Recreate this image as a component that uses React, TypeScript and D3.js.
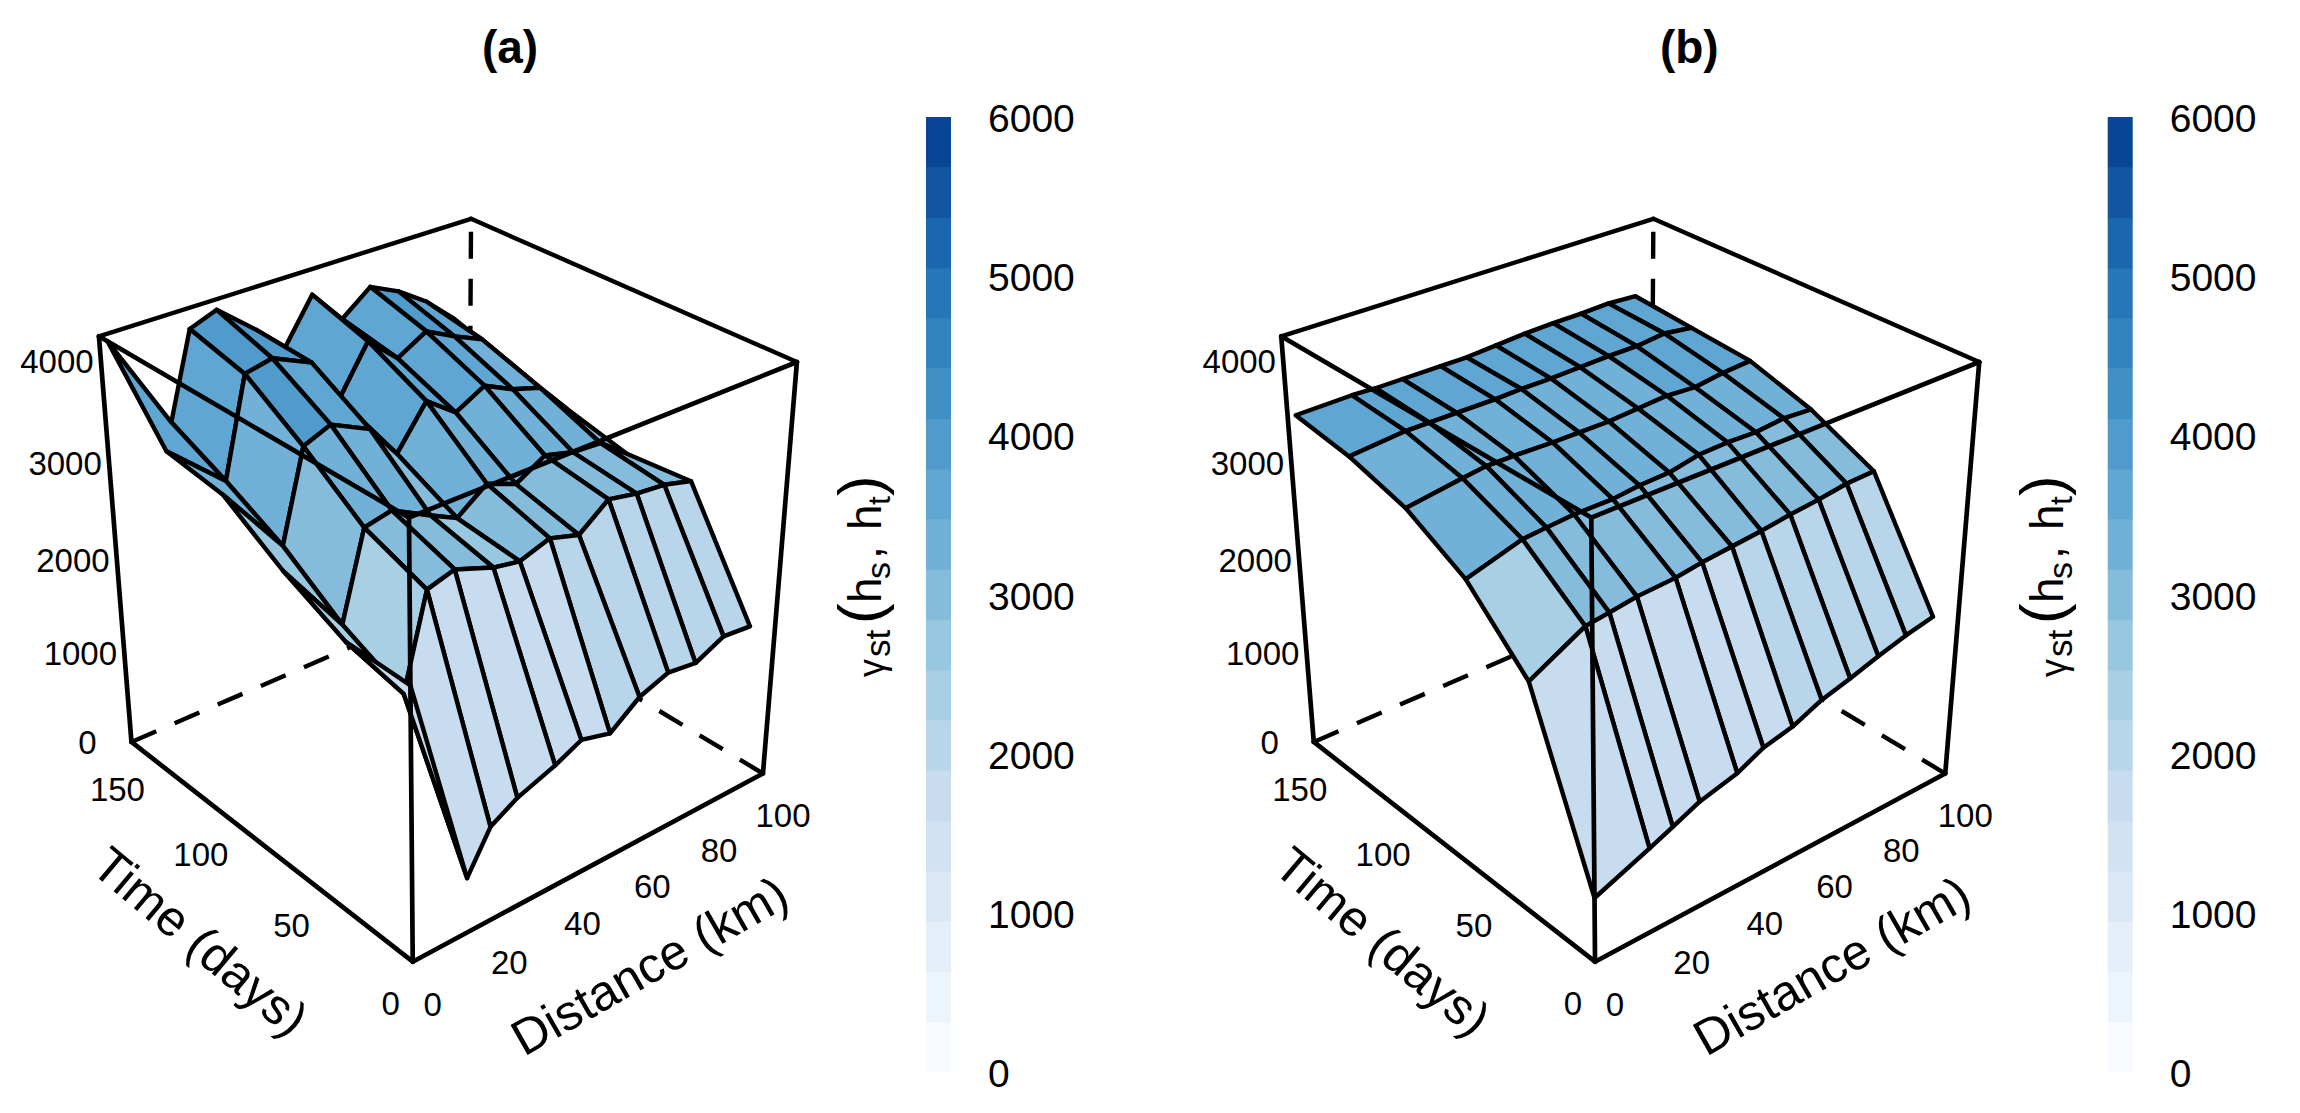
import React from 'react'
import * as d3 from 'd3'

// grid of the two surfaces
const distances = [0, 14, 20, 27, 37, 44, 52, 60, 68, 76, 84, 92]
const times = [0, 30, 60, 90, 120, 150]

// one row per distance, one value per time lag
const empirical = [
  [2750, 2760, 3050, 3420, 3500, 4240],
  [580, 2010, 2300, 2710, 3010, 3270],
  [990, 2920, 3150, 3590, 3970, 4110],
  [1150, 3000, 3210, 3700, 4030, 4210],
  [1290, 2860, 3010, 3520, 3860, 3890],
  [1420, 2810, 2880, 3180, 3410, 3610],
  [1340, 2910, 3100, 3590, 3880, 4060],
  [1570, 2820, 2980, 3370, 3610, 3720],
  [1680, 3050, 3150, 3530, 3780, 3950],
  [1640, 2990, 3070, 3390, 3630, 3810],
  [1780, 2960, 3050, 3300, 3500, 3610],
  [1750, 2880, 2830, 2980, 3150, 3340],
]
const fitted = [
  [670, 2380, 2970, 3290, 3450, 3530],
  [890, 2670, 3130, 3370, 3500, 3540],
  [990, 2700, 3150, 3400, 3500, 3530],
  [1110, 2740, 3170, 3400, 3500, 3530],
  [1210, 2760, 3170, 3390, 3500, 3530],
  [1340, 2800, 3200, 3390, 3510, 3530],
  [1410, 2830, 3210, 3390, 3510, 3550],
  [1540, 2860, 3270, 3410, 3520, 3570],
  [1620, 2900, 3280, 3430, 3530, 3580],
  [1710, 2930, 3270, 3410, 3530, 3580],
  [1790, 2970, 3300, 3450, 3560, 3590],
  [1850, 2980, 3280, 3470, 3520, 3570],
]

const distanceTicks = [0, 20, 40, 60, 80, 100]
const timeTicks = [0, 50, 100, 150]
const gammaTicks = [0, 1000, 2000, 3000, 4000]
const legendTicks = [0, 1000, 2000, 3000, 4000, 5000, 6000]
const blues = ['#F7FBFF', '#DEEBF7', '#C6DBEF', '#9ECAE1', '#6BAED6', '#4292C6', '#2171B5', '#084594']

const FONT = '"Liberation Sans", Arial, sans-serif'
const nBands = 19
const lineW = 4.4

const xNorm = d3.scaleLinear().domain([0, 100]).range([-0.5, 0.5])
const yNorm = d3.scaleLinear().domain([0, 155]).range([-0.5, 0.5])
const zNorm = d3.scaleLinear().domain([0, 4240]).range([-0.5, 0.5])

const bandColor = d3.scaleLinear<string>().domain(blues.map((_, i) => i / 7)).range(blues)
const bandOf = d3.scaleQuantize<number>().domain([0, 6000]).range(d3.range(nBands))
const legendY = d3.scaleLinear().domain([0, 6000]).range([1072, 117])
// cell mean to colour lookup, the reference's low cells sit a band lighter than their mean
const shadeOf = d3.scaleLinear()
  .domain([0, 1600, 2140, 2800, 2900, 3000, 6000])
  .range([0, 1580, 1900, 2520, 2850, 3000, 6000])

// same camera as a lattice wireframe: screen = z 40, x -60, distance 0.2
const theta = 40 * Math.PI / 180
const phi = 60 * Math.PI / 180
const rotate = (d: number, t: number, z: number) => {
  const X = xNorm(d), Y = yNorm(t), Z = zNorm(z)
  const rx = X * Math.cos(theta) - Y * Math.sin(theta)
  const ry = X * Math.sin(theta) + Y * Math.cos(theta)
  return { rx, ry, sy: ry * Math.cos(phi) + Z * Math.sin(phi), sz: -ry * Math.sin(phi) + Z * Math.cos(phi) }
}
const project = (d: number, t: number, z: number): [number, number] => {
  const { rx, sy, sz } = rotate(d, t, z)
  const den = 5 - sz
  return [444 + 2353 * rx / den, 563.5 - 2353 * sy / den]
}

const closed = d3.line().curve(d3.curveLinearClosed)
const open = d3.line()

type PanelProps = { title: string, values: number[][], dx: number, legendDx: number }

const Panel: React.FC<PanelProps> = ({ title, values, dx, legendDx }) => {
  const dMax = 100, tMax = 155, zMax = 4240
  const quads: { depth: number, mean: number, pts: [number, number][] }[] = []
  distances.slice(0, -1).forEach((d, i) => {
    times.slice(0, -1).forEach((t, j) => {
      const corners = [[i, j], [i + 1, j], [i + 1, j + 1], [i, j + 1]]
      quads.push({
        depth: d3.mean(corners, ([a, b]) => rotate(distances[a], times[b], 0).ry) as number,
        mean: d3.mean(corners, ([a, b]) => values[a][b]) as number,
        pts: corners.map(([a, b]) => project(distances[a], times[b], values[a][b])),
      })
    })
  })
  quads.sort((a, b) => b.depth - a.depth)

  const c = (d: number, t: number, z: number) => project(d, t, z)
  const hidden = [
    [c(0, tMax, 0), c(dMax, tMax, 0)],
    [c(dMax, 0, 0), c(dMax, tMax, 0)],
  ]
  const behind = [
    [c(0, tMax, zMax), c(dMax, tMax, zMax)],
    [c(dMax, 0, zMax), c(dMax, tMax, zMax)],
  ]
  const front = [
    [c(0, 0, 0), c(0, tMax, 0)],
    [c(0, 0, 0), c(dMax, 0, 0)],
    [c(0, tMax, 0), c(0, tMax, zMax)],
    [c(dMax, 0, 0), c(dMax, 0, zMax)],
    [c(0, 0, 0), c(0, 0, zMax)],
    [c(0, 0, zMax), c(0, tMax, zMax)],
    [c(0, 0, zMax), c(dMax, 0, zMax)],
  ]

  return (
    <g>
      <text x={510 + dx + (dx ? -3 : 0)} y={63} textAnchor='middle' fontFamily={FONT} fontWeight='bold' fontSize={46}>{title}</text>
      <g transform={`translate(${dx},0)`}>
        {hidden.map((l, i) => (
          <path key={i} d={open(l) as string} fill='none' stroke='black' strokeWidth={lineW} strokeDasharray='27 20' />
        ))}
        <path d={open([c(dMax, tMax, zMax), c(dMax, tMax, 0)]) as string} fill='none' stroke='black' strokeWidth={lineW} strokeDasharray='27 20' strokeDashoffset={34} />
        {behind.map((l, i) => (
          <path key={i} d={open(l) as string} fill='none' stroke='black' strokeWidth={lineW} strokeLinecap='round' />
        ))}
        {quads.map((q, i) => (
          <path
            key={i}
            d={closed(q.pts) as string}
            fill={bandColor(bandOf(shadeOf(q.mean)) / (nBands - 1))}
            stroke='black'
            strokeWidth={lineW}
            strokeLinejoin='round'
          />
        ))}
        {front.map((l, i) => (
          <path key={i} d={open(l) as string} fill='none' stroke='black' strokeWidth={lineW + 0.3} strokeLinecap='round' />
        ))}
        {gammaTicks.map(v => {
          const [x, y] = project(0, tMax, v)
          return <text key={v} x={x - 44} y={y} dy='0.36em' textAnchor='middle' fontFamily={FONT} fontSize={33}>{v}</text>
        })}
        {distanceTicks.map(v => {
          const [x, y] = project(v, 0, 0)
          return <text key={v} x={x + 20} y={y + 42} dy='0.36em' textAnchor='middle' fontFamily={FONT} fontSize={33}>{v}</text>
        })}
        {timeTicks.map(v => {
          const [x, y] = project(0, v, 0)
          return <text key={v} x={x - 22} y={y + 41} dy='0.36em' textAnchor='middle' fontFamily={FONT} fontSize={33}>{v}</text>
        })}
        <text transform='translate(201,941) rotate(40)' dy='0.36em' textAnchor='middle' fontFamily={FONT} fontSize={50}>Time (days)</text>
        <text transform='translate(649,965) rotate(-29.7)' dy='0.36em' textAnchor='middle' fontFamily={FONT} fontSize={50}>Distance (km)</text>
      </g>
      <g transform={`translate(${legendDx},0)`}>
        {d3.range(nBands).map(i => {
          const [v0, v1] = bandOf.invertExtent(i)
          return (
            <rect
              key={i}
              x={926}
              y={legendY(v1)}
              width={25}
              height={legendY(v0) - legendY(v1) + 0.5}
              fill={bandColor(i / (nBands - 1))}
            />
          )
        })}
        {legendTicks.map(v => (
          <text key={v} x={988} y={legendY(v) + 1} dy='0.36em' fontFamily={FONT} fontSize={39}>{v}</text>
        ))}
        <text transform='translate(881,677) rotate(-90)' fontFamily={FONT} fill='black'>
          <tspan x={0} y={3} fontSize={36}>γ</tspan>
          <tspan x={20} y={9} fontSize={35}>st</tspan>
          <tspan x={53} y={0} fontSize={62}>(</tspan>
          <tspan x={74} y={0} fontSize={46}>h</tspan>
          <tspan x={98} y={9} fontSize={34}>s</tspan>
          <tspan x={118} y={0} fontSize={46}>,</tspan>
          <tspan x={147} y={0} fontSize={46}>h</tspan>
          <tspan x={172} y={9} fontSize={32}>t</tspan>
          <tspan x={181} y={0} fontSize={62}>)</tspan>
        </text>
      </g>
    </g>
  )
}

export default function App() {
  return (
    <svg width={2300} height={1113} style={{ position: 'absolute', left: 0, top: 0, background: 'white' }}>
      <Panel title='(a)' values={empirical} dx={0} legendDx={0} />
      <Panel title='(b)' values={fitted} dx={1182.3} legendDx={1181.7} />
    </svg>
  )
}
